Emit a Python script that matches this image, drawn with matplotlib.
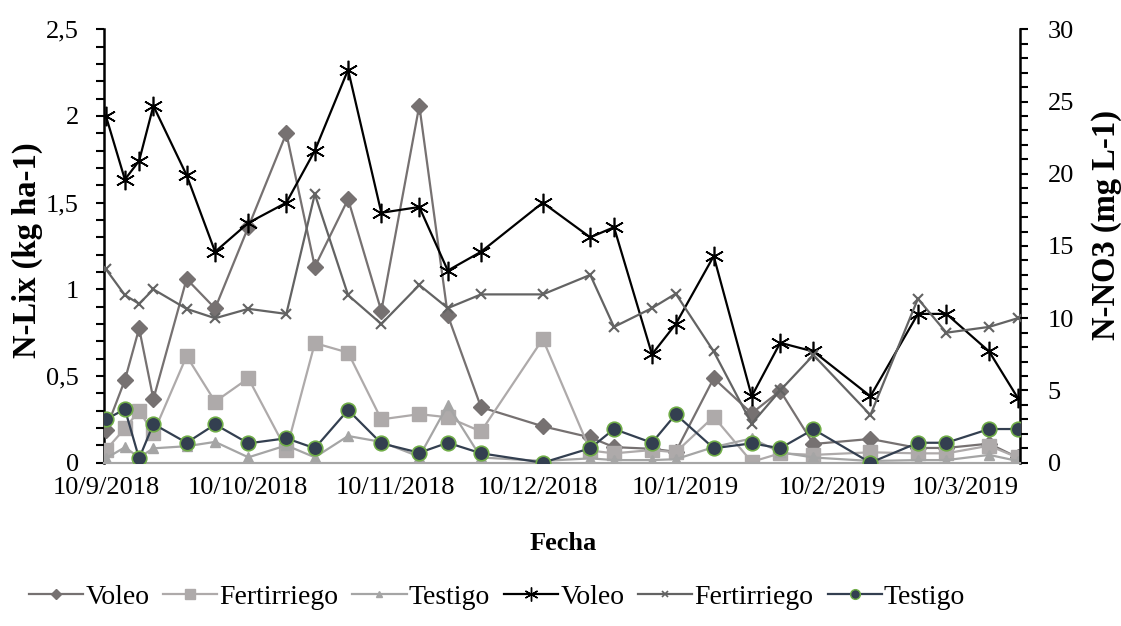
import matplotlib
matplotlib.use('Agg')
import matplotlib.pyplot as plt
import matplotlib.dates as mdates
import pandas as pd
from matplotlib.ticker import MultipleLocator, FuncFormatter, FixedLocator
from matplotlib.lines import Line2D

# ---------------- data ----------------
fechas = ["2018-09-10", "2018-09-14", "2018-09-17", "2018-09-20", "2018-09-27",
          "2018-10-03", "2018-10-10", "2018-10-18", "2018-10-24", "2018-10-31",
          "2018-11-07", "2018-11-15", "2018-11-21", "2018-11-28", "2018-12-11",
          "2018-12-21", "2018-12-26", "2019-01-03", "2019-01-08", "2019-01-16",
          "2019-01-24", "2019-01-30", "2019-02-06", "2019-02-18", "2019-02-28",
          "2019-03-06", "2019-03-15", "2019-03-21"]

# N-Lix (kg ha-1), left axis
voleo_lix = [0.19, 0.477, 0.775, 0.367, 1.06, 0.89, 1.36, 1.90, 1.13, 1.52,
             0.875, 2.06, 0.85, 0.32, 0.21, 0.146, 0.09, 0.08, 0.063, 0.487,
             0.285, 0.415, 0.108, 0.137, 0.085, 0.085, 0.11, 0.03]
fert_lix = [0.073, 0.198, 0.30, 0.17, 0.615, 0.352, 0.487, 0.073, 0.69, 0.635,
            0.25, 0.28, 0.262, 0.18, 0.713, 0.07, 0.054, 0.073, 0.06, 0.265,
            0.005, 0.054, 0.045, 0.06, 0.054, 0.054, 0.098, 0.03]
test_lix = [0.025, 0.089, 0.03, 0.083, 0.095, 0.12, 0.031, 0.10, 0.031, 0.154,
            0.12, 0.035, 0.333, 0.03, 0.01, 0.025, 0.015, 0.015, 0.02, 0.09,
            0.14, 0.06, 0.03, 0.01, 0.015, 0.015, 0.045, 0.01]

# N-NO3 (mg L-1), right axis
voleo_no3 = [24.0, 19.6, 20.9, 24.7, 19.9, 14.6, 16.6, 18.0, 21.6, 27.2,
             17.3, 17.7, 13.3, 14.6, 18.0, 15.6, 16.3, 7.5, 9.6, 14.3,
             4.6, 8.3, 7.7, 4.6, 10.3, 10.3, 7.7, 4.5]
fert_no3 = [13.4, 11.6, 11.0, 12.0, 10.65, 10.0, 10.65, 10.3, 18.6, 11.6,
            9.6, 12.3, 10.7, 11.65, 11.65, 13.0, 9.4, 10.7, 11.7, 7.7,
            2.7, 5.0, 7.45, 3.3, 11.35, 9.0, 9.4, 10.0]
test_no3 = [3.0, 3.7, 0.3, 2.68, 1.38, 2.65, 1.34, 1.69, 1.0, 3.65,
            1.34, 0.69, 1.38, 0.65, 0.0, 1.0, 2.33, 1.38, 3.35, 1.0,
            1.34, 1.0, 2.31, 0.0, 1.38, 1.38, 2.33, 2.33]

tick_fechas = ["2018-09-10", "2018-10-10", "2018-11-10", "2018-12-10",
               "2019-01-10", "2019-02-10", "2019-03-10"]
tick_labels = ["10/9/2018", "10/10/2018", "10/11/2018", "10/12/2018",
               "10/1/2019", "10/2/2019", "10/3/2019"]

series_names = ["Voleo", "Fertirriego", "Testigo"]

# ---------------- style ----------------
plt.rcParams['font.family'] = ['Liberation Serif', 'DejaVu Serif']
FS = 19
FS_T = 23.5
FS_L = 20

c_vlix = '#767171'
c_flix = '#AEAAAA'
c_tlix = '#A5A5A5'
c_vno3 = '#000000'
c_fno3 = '#636363'
c_tno3 = '#333F50'
c_tedge = '#70AD47'
star = (6, 2, 0)

x = pd.to_datetime(fechas)

W, H = 1121, 626
fig = plt.figure(figsize=(W / 100, H / 100), dpi=100)
L, R, T, B = 104, 1020, 29.3, 462.7
ax = fig.add_axes([L / W, 1 - B / H, (R - L) / W, (B - T) / H])
ax2 = ax.twinx()

lw = 1.6
ax.plot(x, voleo_lix, color=c_vlix, lw=lw, marker='D', ms=8.5, mfc=c_vlix, mec=c_vlix, zorder=3)
ax.plot(x, fert_lix, color=c_flix, lw=lw, marker='s', ms=10, mfc=c_flix, mec=c_flix, zorder=3)
ax.plot(x, test_lix, color=c_tlix, lw=lw, marker='^', ms=7, mfc=c_tlix, mec=c_tlix, zorder=3)

ax2.plot(x, voleo_no3, color=c_vno3, lw=lw, marker=star, ms=14, mew=1.2, mec=c_vno3, zorder=3)
ax2.plot(x, fert_no3, color=c_fno3, lw=lw, marker='x', ms=6.5, mew=1.5, mec=c_fno3, zorder=3)
ax2.plot(x, test_no3, color=c_tno3, lw=lw, marker='o', ms=10.5, mfc=c_tno3, mec=c_tedge, mew=1.2, zorder=4)

# axes limits
ax.set_xlim(x[0] - pd.Timedelta(days=0.4), x[-1] + pd.Timedelta(days=0.5))
ax.set_ylim(0, 2.5)
ax2.set_ylim(0, 30)

# ticks
ax.yaxis.set_major_locator(MultipleLocator(0.5))
ax.yaxis.set_minor_locator(MultipleLocator(0.1))
ax.yaxis.set_major_formatter(FuncFormatter(lambda v, p: ('%g' % v).replace('.', ',')))
ax2.yaxis.set_major_locator(MultipleLocator(5))
ax2.yaxis.set_minor_locator(MultipleLocator(1))

ax.xaxis.set_major_locator(FixedLocator(mdates.date2num(pd.to_datetime(tick_fechas))))
ax.set_xticklabels(tick_labels)
ax.tick_params(axis='x', length=0, pad=10, labelsize=FS)
ax.tick_params(axis='y', which='both', direction='out', length=6, width=1.5, pad=12, labelsize=FS, color='black')
ax2.tick_params(axis='y', which='both', direction='out', length=6, width=1.5, pad=14, labelsize=FS, color='black')

for a in (ax, ax2):
    a.spines['top'].set_visible(False)
    a.spines['bottom'].set_color('#A6A6A6')
    a.spines['bottom'].set_linewidth(1.5)
    a.spines['left'].set_linewidth(1.8)
    a.spines['right'].set_linewidth(1.8)
ax.spines['right'].set_visible(False)
ax2.spines['left'].set_visible(False)

# labels
fig.text(27 / W, 1 - 250 / H, 'N-Lix (kg ha-1)', rotation=90, ha='center', va='center',
         fontsize=FS_T, fontweight='bold')
fig.text(1106 / W, 1 - 225 / H, 'N-NO3 (mg L-1)', rotation=90, ha='center', va='center',
         fontsize=FS_T, fontweight='bold')
fig.text(563 / W, 1 - 544 / H, 'Fecha', ha='center', va='center', fontsize=FS, fontweight='bold')

# legend
handles = [
    Line2D([], [], color=c_vlix, lw=lw, marker='D', ms=5.5, mfc=c_vlix, mec=c_vlix),
    Line2D([], [], color=c_flix, lw=lw, marker='s', ms=6.5, mfc=c_flix, mec=c_flix),
    Line2D([], [], color=c_tlix, lw=lw, marker='^', ms=5, mfc=c_tlix, mec=c_tlix),
    Line2D([], [], color=c_vno3, lw=lw, marker=star, ms=10, mew=1.0, mec=c_vno3),
    Line2D([], [], color=c_fno3, lw=lw, marker='x', ms=4.5, mew=1.2, mec=c_fno3),
    Line2D([], [], color=c_tno3, lw=lw, marker='o', ms=7, mfc=c_tno3, mec=c_tedge, mew=1.0),
]
labels = series_names + series_names
fig.legend(handles, labels, loc='center', bbox_to_anchor=(497 / W, 1 - 597 / H), ncol=6,
           frameon=False, fontsize=FS_L, handlelength=1.95, handletextpad=0.08, columnspacing=0.5,
           borderaxespad=0)

fig.savefig('out.png', dpi=100)
